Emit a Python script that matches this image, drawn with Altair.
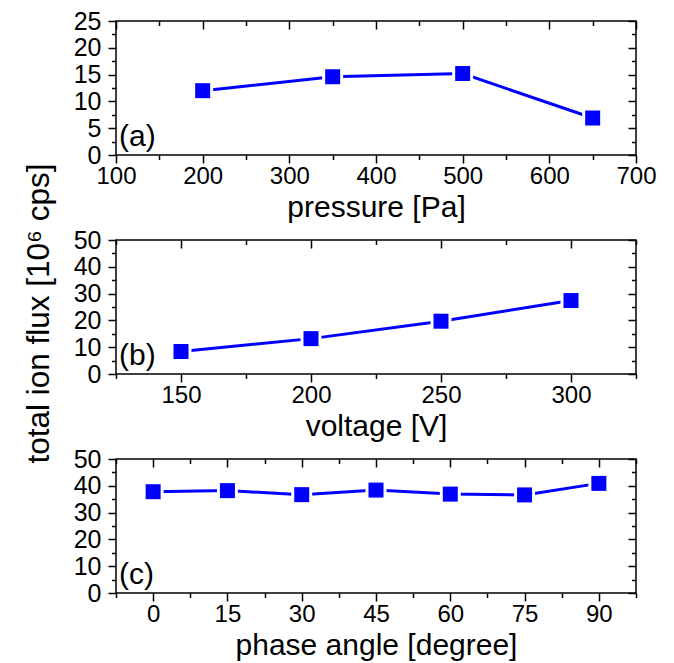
import altair as alt
import pandas as pd

# ---- data ----
pressure = [200, 350, 500, 650]
flux_a = [12.0, 14.6, 15.2, 6.9]

voltage = [150, 200, 250, 300]
flux_b = [8.4, 13.2, 19.7, 27.4]

phase = [0, 15, 30, 45, 60, 75, 90]
flux_c = [37.8, 38.2, 36.7, 38.4, 36.9, 36.6, 40.9]

panel_labels = ["(a)", "(b)", "(c)"]
x_titles = ["pressure [Pa]", "voltage [V]", "phase angle [degree]"]
y_title = "total ion flux [10\u2076 cps]"

x_domains = [[100, 700], [125, 325], [-7.5, 97.5]]
x_major = [[100, 200, 300, 400, 500, 600, 700],
           [150, 200, 250, 300],
           [0, 15, 30, 45, 60, 75, 90]]
x_minor = [[150, 250, 350, 450, 550, 650],
           [125, 175, 225, 275, 325],
           [-7.5, 7.5, 22.5, 37.5, 52.5, 67.5, 82.5, 97.5]]
y_domains = [[0, 25], [0, 50], [0, 50]]
y_major = [[0, 5, 10, 15, 20, 25],
           [0, 10, 20, 30, 40, 50],
           [0, 10, 20, 30, 40, 50]]
y_minor = [[2.5, 7.5, 12.5, 17.5, 22.5],
           [5, 15, 25, 35, 45],
           [5, 15, 25, 35, 45]]

FONT = "Liberation Sans"
W, H = 520, 134
MAJ, MIN = 8, 4.5
BLUE = "#0000ff"


def panel(i, xs, ys):
    df = pd.DataFrame({"x": xs, "y": ys})
    xs_ = alt.Scale(domain=x_domains[i], nice=False, zero=False)
    ys_ = alt.Scale(domain=y_domains[i], nice=False, zero=False)
    base = alt.Chart(df)

    xkw = dict(orient="bottom", values=x_major[i], tickSize=MAJ, labelPadding=1.5,
               labelFlush=False, labelOverlap=False, labelFontSize=24,
               title=x_titles[i], titleFontSize=30,
               titleX=W / 2, titleY=61, titleAlign="center",
               titleBaseline="alphabetic")
    ykw = dict(orient="left", values=y_major[i], tickSize=MAJ, labelPadding=7,
               labelFlush=False, labelOverlap=False, labelFontSize=25, title=None)
    if i == 1:
        ykw.update(title=y_title, titleFontSize=31.5, titleX=-67.5, titleY=73,
                   titleAngle=270, titleAlign="center", titleBaseline="alphabetic")

    line = base.mark_line(color=BLUE, strokeWidth=3).encode(
        x=alt.X("x:Q", scale=xs_, axis=alt.Axis(**xkw)),
        y=alt.Y("y:Q", scale=ys_, axis=alt.Axis(**ykw)),
    )
    halo = base.mark_square(size=441, color="white", opacity=1).encode(
        x=alt.X("x:Q", scale=xs_, axis=None),
        y=alt.Y("y:Q", scale=ys_, axis=None),
    )
    pts = base.mark_square(size=225, color=BLUE, opacity=1).encode(
        x=alt.X("x:Q", scale=xs_, axis=None),
        y=alt.Y("y:Q", scale=ys_, axis=None),
    )
    minor_bl = base.mark_point(opacity=0).encode(
        x=alt.X("x:Q", scale=xs_, axis=alt.Axis(orient="bottom", values=x_minor[i],
                                                tickSize=MIN, labels=False, title=None)),
        y=alt.Y("y:Q", scale=ys_, axis=alt.Axis(orient="left", values=y_minor[i],
                                                tickSize=MIN, labels=False, title=None)),
    )
    major_tr = base.mark_point(opacity=0).encode(
        x=alt.X("x:Q", scale=xs_, axis=alt.Axis(orient="top", values=x_major[i],
                                                tickSize=MAJ, offset=-MAJ,
                                                labels=False, title=None)),
        y=alt.Y("y:Q", scale=ys_, axis=alt.Axis(orient="right", values=y_major[i],
                                                tickSize=MAJ, offset=-MAJ,
                                                labels=False, title=None)),
    )
    minor_tr = base.mark_point(opacity=0).encode(
        x=alt.X("x:Q", scale=xs_, axis=alt.Axis(orient="top", values=x_minor[i],
                                                tickSize=MIN, offset=-MIN,
                                                labels=False, title=None)),
        y=alt.Y("y:Q", scale=ys_, axis=alt.Axis(orient="right", values=y_minor[i],
                                                tickSize=MIN, offset=-MIN,
                                                labels=False, title=None)),
    )
    lab = alt.Chart(pd.DataFrame({"t": [panel_labels[i]]})).mark_text(
        align="left", baseline="alphabetic", fontSize=30, font=FONT, color="black"
    ).encode(text="t:N", x=alt.value(3), y=alt.value(H - 9))

    return alt.layer(line, halo, pts, minor_bl, major_tr, minor_tr, lab).resolve_axis(
        x="independent", y="independent"
    ).properties(width=W, height=H)


chart = alt.vconcat(
    panel(0, pressure, flux_a),
    panel(1, voltage, flux_b),
    panel(2, phase, flux_c),
    spacing=85,
    bounds="flush",
).properties(
    padding={"left": 14, "top": 0, "right": 5, "bottom": 0},
    background="white",
).configure_view(
    stroke="black", strokeWidth=1.5
).configure_axis(
    domain=False, grid=False, ticks=True, tickColor="black", tickWidth=1.5,
    labelFont=FONT, labelColor="black",
    titleFont=FONT, titleFontWeight="normal", titleColor="black",
)

chart.save("out.html", embed_options={"renderer": "svg", "actions": False})
